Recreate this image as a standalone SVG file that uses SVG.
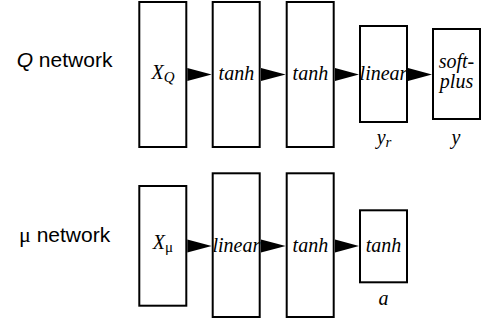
<svg xmlns="http://www.w3.org/2000/svg" width="482" height="321" viewBox="0 0 482 321">
<style>
.box{fill:#fff;stroke:#000;stroke-width:2}
.arrow{fill:#000;stroke:none}
.lbl{font-family:"Liberation Sans",Arial,sans-serif;font-size:21px;fill:#000}
.m{font-family:"Liberation Serif","Times New Roman",serif;font-style:italic;font-size:20px;fill:#000;text-anchor:middle}
.sub{font-size:15px}
.up{font-style:normal}
</style>
<rect width="482" height="321" fill="#fff"/>
<text class="lbl" x="16.7" y="66.7"><tspan font-style="italic">Q</tspan> network</text>
<text class="lbl" x="19" y="241.7"><tspan font-family="Liberation Serif,serif" font-size="22">μ</tspan> network</text>
<g id="q_input"><rect class="box" x="139.3" y="2" width="47" height="145"/><text class="m" x="163" y="79" font-size="22">X<tspan class="sub" dy="3">Q</tspan></text></g>
<g id="q_tanh1"><rect class="box" x="212.7" y="2" width="47" height="145"/><text class="m" x="236.4" y="80" font-size="21">tanh</text></g>
<g id="q_tanh2"><rect class="box" x="286.7" y="2" width="47" height="145"/><text class="m" x="310.4" y="80" font-size="21">tanh</text></g>
<g id="q_linear"><rect class="box" x="360" y="26" width="47" height="96"/><text class="m" x="383.5" y="80" font-size="19">linear</text><text class="m" x="384" y="144" font-size="22">y<tspan class="sub" dy="3">r</tspan></text></g>
<g id="q_softplus"><rect class="box" x="433" y="29" width="47" height="90"/><text class="m" x="456.5" y="67.7" font-size="15">soft-</text><text class="m" x="456.5" y="88.3" font-size="15">plus</text><text class="m" x="456" y="144" font-size="22">y</text></g>
<g id="mu_input"><rect class="box" x="139.3" y="186" width="47" height="119.7"/><text class="m" x="163" y="249.3" font-size="22">X<tspan class="sub up" dy="3">μ</tspan></text></g>
<g id="mu_linear"><rect class="box" x="212.7" y="173.3" width="47" height="143.7"/><text class="m" x="236.4" y="251.5" font-size="19">linear</text></g>
<g id="mu_tanh1"><rect class="box" x="286.7" y="173.3" width="47" height="143.7"/><text class="m" x="310.4" y="251.5" font-size="21">tanh</text></g>
<g id="mu_tanh2"><rect class="box" x="360" y="210.3" width="47" height="72"/><text class="m" x="383.5" y="251.5" font-size="21">tanh</text><text class="m" x="383.5" y="305" font-size="22">a</text></g>
<g id="connectors">
<polygon class="arrow" points="187.3,68 211.7,74.5 187.3,81"/>
<polygon class="arrow" points="261,68 285.7,74.5 261,81"/>
<polygon class="arrow" points="335,68 359,74.5 335,81"/>
<polygon class="arrow" points="408,68 432,74.5 408,81"/>
<polygon class="arrow" points="187.3,239.5 211.7,246 187.3,252.5"/>
<polygon class="arrow" points="261,239.5 285.7,246 261,252.5"/>
<polygon class="arrow" points="335,239.5 359,246 335,252.5"/>
</g>
</svg>
